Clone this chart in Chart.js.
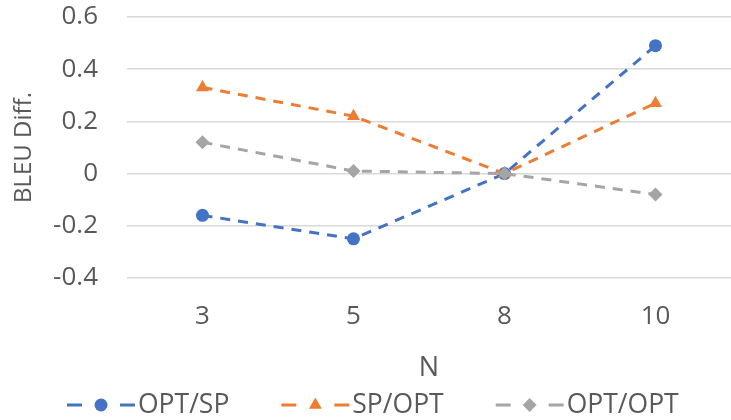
<!DOCTYPE html>
<html>
<head>
<meta charset="utf-8">
<script src="https://cdn.jsdelivr.net/npm/chart.js@4"></script>
<style>
  html, body { margin: 0; padding: 0; background: #ffffff; }
  #wrap { width: 731px; height: 420px; position: relative; }
</style>
</head>
<body>
<div id="wrap"><canvas id="chart"></canvas></div>
<script>
// Category axis (N) and BLEU differences per pairing
const categories = ['3', '5', '8', '10'];
const optSp  = [-0.16, -0.25, 0, 0.49];
const spOpt  = [0.33, 0.22, 0, 0.27];
const optOpt = [0.12, 0.01, 0, -0.08];
const seriesNames = ['OPT/SP', 'SP/OPT', 'OPT/OPT'];
const yTicks = [-0.4, -0.2, 0, 0.2, 0.4, 0.6];

const FONT = "'Open Sans', 'DejaVu Sans', sans-serif";
const TEXT = '#595959';
const CLEAR = 'rgba(0,0,0,0)';
const colors = ['#4472C4', '#ED7D31', '#A5A5A5'];
const styles = ['circle', 'triangle', 'rectRot'];
const radii = [6.5, 7.5, 7];

function makeSet(i, data, order) {
  return {
    label: seriesNames[i],
    data: data,
    borderColor: colors[i],
    backgroundColor: colors[i],
    borderWidth: 3,
    borderDash: [10, 8],
    pointStyle: styles[i],
    pointRadius: radii[i],
    pointHoverRadius: radii[i],
    pointBorderWidth: 0,
    tension: 0,
    clip: false,
    order: order
  };
}

// Legend drawn below the plot: dashed sample with the marker, then the name
const bottomLegend = {
  id: 'bottomLegend',
  afterDraw(chart) {
    const ctx = chart.ctx;
    const sets = chart.data.datasets;
    const cy = 405;
    let x = 67;
    ctx.save();
    ctx.font = '26.5px ' + FONT;
    ctx.textBaseline = 'middle';
    sets.forEach((ds, i) => {
      ctx.strokeStyle = ds.borderColor;
      ctx.lineWidth = 3;
      ctx.setLineDash([]);
      ctx.beginPath();
      ctx.moveTo(x, cy); ctx.lineTo(x + 15, cy);
      ctx.moveTo(x + 53, cy); ctx.lineTo(x + 68, cy);
      ctx.stroke();
      ctx.fillStyle = ds.backgroundColor;
      Chart.helpers.drawPoint(ctx, {
        pointStyle: ds.pointStyle, rotation: 0,
        radius: ds.pointRadius, borderWidth: 0
      }, x + 34, cy);
      ctx.fillStyle = TEXT;
      ctx.fillText(ds.label, x + 71, cy);
      const w = ctx.measureText(ds.label).width;
      x = x + 71 + w + 52;
    });
    ctx.restore();
  }
};

new Chart(document.getElementById('chart'), {
  type: 'line',
  data: {
    labels: categories,
    datasets: [
      makeSet(0, optSp, 3),
      makeSet(1, spOpt, 2),
      makeSet(2, optOpt, 1)
    ]
  },
  options: {
    responsive: true,
    maintainAspectRatio: false,
    animation: false,
    events: [],
    layout: { autoPadding: false, padding: { top: 17, right: -4, bottom: 35, left: 0 } },
    plugins: {
      legend: { display: false },
      tooltip: { enabled: false }
    },
    scales: {
      x: {
        offset: true,
        grid: {
          display: true, color: CLEAR, offset: true,
          drawTicks: true, tickLength: 23, tickColor: CLEAR
        },
        border: { display: false },
        ticks: { color: TEXT, font: { family: FONT, size: 26 }, padding: 0 },
        title: {
          display: true, text: 'N', color: TEXT,
          font: { family: FONT, size: 27 }, padding: { top: 0, bottom: 0 }
        },
        afterFit(scale) { scale.height = 107; }
      },
      y: {
        min: -0.4, max: 0.6,
        afterBuildTicks(scale) { scale.ticks = yTicks.map(v => ({ value: v })); },
        grid: {
          color: '#D9D9D9', lineWidth: 1.5,
          drawTicks: true, tickLength: 29, tickColor: CLEAR
        },
        border: { display: false },
        ticks: {
          color: TEXT, font: { family: FONT, size: 26 }, padding: 0,
          callback: v => (Math.abs(v) < 1e-9 ? '0' : String(Math.round(v * 10) / 10))
        },
        title: {
          display: true, text: 'BLEU Diff.', color: TEXT,
          font: { family: FONT, size: 24 }, padding: { top: 10, bottom: 0 }
        },
        afterFit(scale) { scale.width = 127; }
      }
    }
  },
  plugins: [bottomLegend]
});
</script>
</body>
</html>
